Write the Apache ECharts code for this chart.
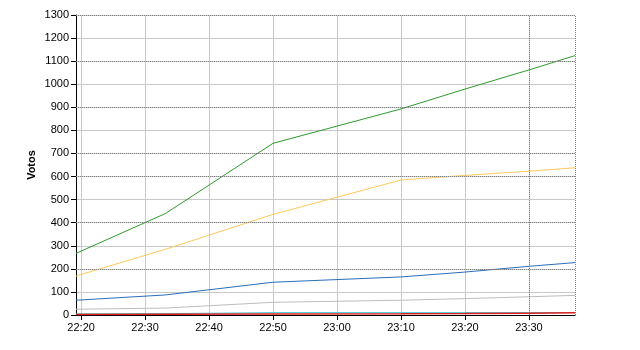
<!DOCTYPE html>
<html>
<head>
<meta charset="utf-8">
<script src="https://cdn.jsdelivr.net/npm/echarts@6/dist/echarts.min.js"></script>
<style>html,body{margin:0;padding:0;background:#fff;}#c{width:640px;height:350px;}</style>
</head>
<body>
<div id="c"></div>
<script>
// Data (times as HH:MM:SS)
var times = ["22:19:12", "22:33:12", "22:50:00", "23:10:00", "23:20:00", "23:30:00", "23:37:12"];
var greenVotes  = [267, 440, 744, 893, 979, 1062, 1124];
var yellowVotes = [169, 285, 436, 585, 605, 623, 638];
var blueVotes   = [64, 87, 142, 165, 186, 211, 227];
var grayVotes   = [25, 30, 55, 64, 71, 79, 85];
var tealVotes   = [5, 6, 10, 10, 10, 10, 11];
var redVotes    = [2, 3, 4, 5, 6, 8, 10];
var tickLabels  = ["22:20", "22:30", "22:40", "22:50", "23:00", "23:10", "23:20", "23:30"];
var dottedLevels = [200, 400, 600, 700, 900, 1100, 1300];
var dottedTimes  = ["23:30:00", "23:37:12"];
var yMax = 1300, yStep = 100;

function toMin(s) {
  var p = s.split(":");
  return (+p[0]) * 60 + (+p[1]) + (p[2] ? (+p[2]) / 60 : 0);
}
function fmt(v) {
  var m = Math.round(v);
  var h = Math.floor(m / 60), mm = m % 60;
  return h + ":" + (mm < 10 ? "0" : "") + mm;
}
function pairs(vals) {
  return times.map(function (t, i) { return [toMin(t), vals[i]]; });
}
var tickVals = tickLabels.map(toMin);

var font = "Liberation Sans";
var mk = {
  silent: true,
  symbol: "none",
  label: { show: false },
  lineStyle: { type: [1, 1], color: "#808080", width: 1 },
  data: dottedLevels.map(function (v) { return { yAxis: v }; })
    .concat(dottedTimes.map(function (t) { return { xAxis: toMin(t) }; }))
};

function ser(vals, color, extra) {
  var s = {
    type: "line",
    data: pairs(vals),
    showSymbol: false,
    symbol: "none",
    lineStyle: { width: 1, color: color },
    itemStyle: { color: color },
    animation: false
  };
  if (extra) for (var k in extra) s[k] = extra[k];
  return s;
}

var chart = echarts.init(document.getElementById("c"), null, { renderer: "canvas" });
chart.setOption({
  animation: false,
  backgroundColor: "#fff",
  grid: { left: 76, right: 65, top: 15, bottom: 35, containLabel: false },
  xAxis: {
    type: "value",
    min: toMin(times[0]),
    max: toMin(times[times.length - 1]),
    axisLine: { show: true, onZero: false, lineStyle: { color: "#000", width: 1 } },
    axisTick: { show: true, length: 5, customValues: tickVals, lineStyle: { color: "#000" } },
    axisLabel: { customValues: tickVals, formatter: fmt, color: "#000", fontFamily: font, fontSize: 11, margin: 7 },
    splitLine: { show: true, lineStyle: { color: "#c8c8c8", width: 1 } }
  },
  yAxis: {
    type: "value",
    min: 0, max: yMax, interval: yStep,
    name: "Votos",
    nameLocation: "middle",
    nameGap: 39,
    nameMoveOverlap: false,
    nameTextStyle: { color: "#000", fontFamily: font, fontSize: 11, fontWeight: "bold" },
    axisLine: { show: true, lineStyle: { color: "#000", width: 1 } },
    axisTick: { show: true, length: 5, lineStyle: { color: "#000" } },
    axisLabel: { color: "#000", fontFamily: font, fontSize: 11, margin: 7, formatter: function (v) { return String(v); } },
    splitLine: { show: true, lineStyle: { color: "#c8c8c8", width: 1 } }
  },
  series: [
    ser(grayVotes, "#bdbdbd", { markLine: mk }),
    ser(tealVotes, "#33c6cc"),
    ser(redVotes, "#e02020", { lineStyle: { width: 1.5, color: "#e02020" } }),
    ser(blueVotes, "#2a6ebb"),
    ser(yellowVotes, "#ffc95a"),
    ser(greenVotes, "#2e9a2e")
  ]
});
</script>
</body>
</html>
